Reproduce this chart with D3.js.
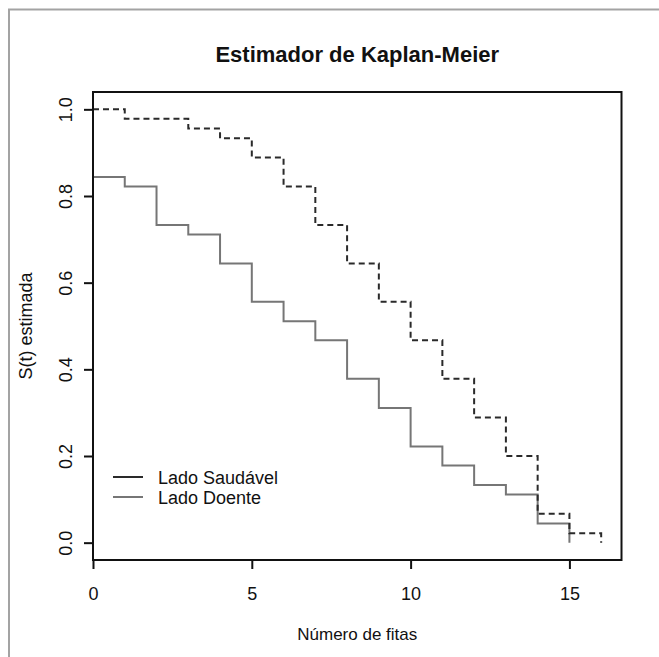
<!DOCTYPE html>
<html>
<head>
<meta charset="utf-8">
<script src="https://cdn.jsdelivr.net/npm/d3@7"></script>
<style>
  html, body { margin: 0; padding: 0; background: #fff; }
  svg { display: block; font-family: "Liberation Sans", Arial, Helvetica, sans-serif; }
</style>
</head>
<body>
<svg id="chart" width="659" height="657"></svg>
<script>
// ---- data ----
const chartTitle = "Estimador de Kaplan-Meier";
const xLabel = "Número de fitas";
const yLabel = "S(t) estimada";
const xTicks = [0, 5, 10, 15];
const yTicks = [0.0, 0.2, 0.4, 0.6, 0.8, 1.0];
const seriesNames = ["Lado Saudável", "Lado Doente"];

const saudavelTime = [0, 1, 3, 4, 5, 6, 7, 8, 9, 10, 11, 12, 13, 14, 15, 16];
const saudavelSurv = [1.0, 0.978, 0.956, 0.933, 0.889, 0.822, 0.733, 0.644, 0.556, 0.467, 0.378, 0.289, 0.200, 0.067, 0.022, 0.0];

const doenteTime = [0, 0, 1, 2, 3, 4, 5, 6, 7, 8, 9, 10, 11, 12, 13, 14, 15];
const doenteSurv = [1.0, 0.844, 0.822, 0.733, 0.711, 0.644, 0.556, 0.511, 0.467, 0.378, 0.311, 0.222, 0.178, 0.133, 0.111, 0.044, 0.0];

// ---- drawing ----
const svg = d3.select("#chart");
const L = 93, R = 621.5, T = 92, B = 560;

const x = d3.scaleLinear().domain([0, 16.64]).range([L, R]);
const y = d3.scaleLinear().domain([-0.04, 1.04]).range([B, T]);

// outer frame (top and left edges visible)
svg.append("path")
  .attr("d", `M9,657 L9,9.5 L659,9.5`)
  .attr("fill", "none")
  .attr("stroke", "#a3a3a3")
  .attr("stroke-width", 2);

// title
svg.append("text")
  .attr("x", (L + R) / 2).attr("y", 62)
  .attr("text-anchor", "middle")
  .attr("font-size", 22).attr("font-weight", "bold")
  .attr("fill", "#111")
  .text(chartTitle);

// curves
const line = d3.line().x(d => x(d[0])).y(d => y(d[1])).curve(d3.curveStepAfter);

const dataSaud = saudavelTime.map((t, i) => [t, saudavelSurv[i]]);
const dataDoen = doenteTime.map((t, i) => [t, doenteSurv[i]]);

svg.append("path")
  .datum(dataDoen)
  .attr("d", line)
  .attr("fill", "none")
  .attr("stroke", "#767676")
  .attr("stroke-width", 2);

svg.append("path")
  .datum(dataSaud)
  .attr("d", line)
  .attr("fill", "none")
  .attr("stroke", "#2a2a2a")
  .attr("stroke-width", 2)
  .attr("stroke-dasharray", "6,4");

// box
svg.append("rect")
  .attr("x", L).attr("y", T)
  .attr("width", R - L).attr("height", B - T)
  .attr("fill", "none")
  .attr("stroke", "#111")
  .attr("stroke-width", 2);

// x axis
const gx = svg.append("g")
  .attr("transform", `translate(0,${B})`)
  .call(d3.axisBottom(x).tickValues(xTicks).tickSize(9).tickPadding(0).tickFormat(d3.format("d")));
gx.select(".domain").remove();
gx.selectAll("line").attr("stroke", "#111").attr("stroke-width", 2);
gx.selectAll("text")
  .attr("y", 40).attr("dy", null)
  .attr("font-size", 18)
  .attr("font-family", "'Liberation Sans', Arial, sans-serif")
  .attr("fill", "#111");

// y axis
const gy = svg.append("g")
  .attr("transform", `translate(${L},0)`)
  .call(d3.axisLeft(y).tickValues(yTicks).tickSize(9).tickFormat(d3.format(".1f")));
gy.select(".domain").remove();
gy.selectAll("line").attr("stroke", "#111").attr("stroke-width", 2);
gy.selectAll("text")
  .attr("x", null).attr("dy", null)
  .attr("text-anchor", "middle")
  .attr("transform", "translate(-21,0) rotate(-90)")
  .attr("font-size", 18)
  .attr("font-family", "'Liberation Sans', Arial, sans-serif")
  .attr("fill", "#111");

// axis titles
svg.append("text")
  .attr("x", (L + R) / 2).attr("y", 640)
  .attr("text-anchor", "middle")
  .attr("font-size", 17)
  .attr("fill", "#111")
  .text(xLabel);

svg.append("text")
  .attr("transform", `translate(32,${(T + B) / 2}) rotate(-90)`)
  .attr("text-anchor", "middle")
  .attr("font-size", 18)
  .attr("fill", "#111")
  .text(yLabel);

// legend
const legendColors = ["#2a2a2a", "#767676"];
const lg = svg.append("g");
seriesNames.forEach((name, i) => {
  const yy = 477 + i * 20;
  lg.append("line")
    .attr("x1", 113).attr("x2", 143)
    .attr("y1", yy).attr("y2", yy)
    .attr("stroke", legendColors[i])
    .attr("stroke-width", 2);
  lg.append("text")
    .attr("x", 158).attr("y", yy + 7)
    .attr("font-size", 18)
    .attr("fill", "#111")
    .text(name);
});
</script>
</body>
</html>
